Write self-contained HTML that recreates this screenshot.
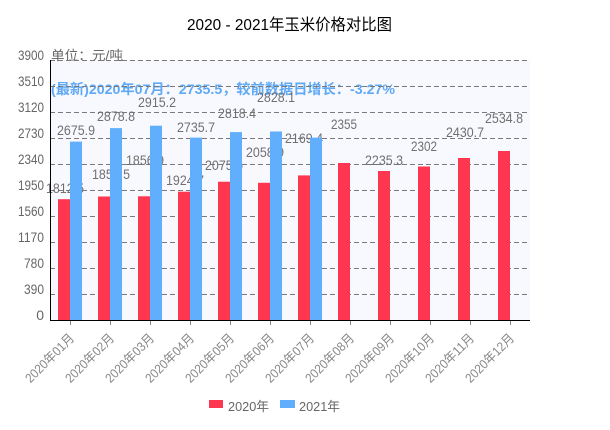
<!DOCTYPE html>
<html><head><meta charset="utf-8"><style>
html,body{margin:0;padding:0;background:#fff;}
svg{display:block;}
text{font-family:"Liberation Sans","Noto Sans CJK SC",sans-serif;}
</style></head><body>
<svg width="610" height="430" viewBox="0 0 610 430" xmlns="http://www.w3.org/2000/svg">
<rect x="0" y="0" width="610" height="430" fill="#fff"/>
<text x="187" y="30" font-size="16" fill="#000" textLength="205" lengthAdjust="spacingAndGlyphs">2020 - 2021年玉米价格对比图</text>
<rect x="50" y="60" width="480" height="260" fill="#f8f9ff"/>
<text x="51" y="60" font-size="13" fill="#666" textLength="72" lengthAdjust="spacingAndGlyphs">单位：元/吨</text>
<text x="51" y="94" font-size="14" font-weight="bold" fill="#5fa9f5" textLength="344" lengthAdjust="spacingAndGlyphs">(最新)2020年07月：2735.5，较前数据日增长：-3.27%</text>
<g stroke="#7a7a7a" stroke-width="1" stroke-dasharray="5,3">
<line x1="50" y1="60.5" x2="530" y2="60.5"/>
<line x1="50" y1="86.5" x2="530" y2="86.5"/>
<line x1="50" y1="112.5" x2="530" y2="112.5"/>
<line x1="50" y1="138.5" x2="530" y2="138.5"/>
<line x1="50" y1="164.5" x2="530" y2="164.5"/>
<line x1="50" y1="190.5" x2="530" y2="190.5"/>
<line x1="50" y1="216.5" x2="530" y2="216.5"/>
<line x1="50" y1="242.5" x2="530" y2="242.5"/>
<line x1="50" y1="268.5" x2="530" y2="268.5"/>
<line x1="50" y1="294.5" x2="530" y2="294.5"/>
</g>
<g font-size="14" fill="#666" text-anchor="end">
<text x="44" y="60" textLength="26" lengthAdjust="spacingAndGlyphs">3900</text>
<text x="44" y="86" textLength="26" lengthAdjust="spacingAndGlyphs">3510</text>
<text x="44" y="112" textLength="26" lengthAdjust="spacingAndGlyphs">3120</text>
<text x="44" y="138" textLength="26" lengthAdjust="spacingAndGlyphs">2730</text>
<text x="44" y="164" textLength="26" lengthAdjust="spacingAndGlyphs">2340</text>
<text x="44" y="190" textLength="26" lengthAdjust="spacingAndGlyphs">1950</text>
<text x="44" y="216" textLength="26" lengthAdjust="spacingAndGlyphs">1560</text>
<text x="44" y="242" textLength="26" lengthAdjust="spacingAndGlyphs">1170</text>
<text x="44" y="268" textLength="20" lengthAdjust="spacingAndGlyphs">780</text>
<text x="44" y="294" textLength="20" lengthAdjust="spacingAndGlyphs">390</text>
<text x="44" y="320">0</text>
</g>
<!-- red bars -->
<g fill="#fe3650">
<rect x="58" y="199.2" width="12" height="120.8"/>
<rect x="98" y="196.5" width="12" height="123.5"/>
<rect x="138" y="196.3" width="12" height="123.7"/>
<rect x="178" y="191.7" width="12" height="128.3"/>
<rect x="218" y="181.7" width="12" height="138.3"/>
<rect x="258" y="182.8" width="12" height="137.2"/>
<rect x="298" y="175.4" width="12" height="144.6"/>
<rect x="338" y="163" width="12" height="157"/>
<rect x="378" y="171" width="12" height="149"/>
<rect x="418" y="166.5" width="12" height="153.5"/>
<rect x="458" y="158" width="12" height="162"/>
<rect x="498" y="151" width="12" height="169"/>
</g>
<g font-size="14" fill="#707070">
<text x="46" y="193" textLength="38" lengthAdjust="spacingAndGlyphs">1812.5</text>
<text x="92" y="179" textLength="38" lengthAdjust="spacingAndGlyphs">1852.5</text>
<text x="126" y="165" textLength="38" lengthAdjust="spacingAndGlyphs">1856.9</text>
<text x="166" y="185" textLength="38" lengthAdjust="spacingAndGlyphs">1924.7</text>
<text x="205" y="170" textLength="38" lengthAdjust="spacingAndGlyphs">2075.6</text>
<text x="246" y="157" textLength="38" lengthAdjust="spacingAndGlyphs">2058.9</text>
<text x="285" y="143" textLength="38" lengthAdjust="spacingAndGlyphs">2169.4</text>
<text x="331" y="129" textLength="26" lengthAdjust="spacingAndGlyphs">2355</text>
<text x="365" y="165" textLength="38" lengthAdjust="spacingAndGlyphs">2235.3</text>
<text x="411" y="151" textLength="26" lengthAdjust="spacingAndGlyphs">2302</text>
<text x="446" y="137" textLength="38" lengthAdjust="spacingAndGlyphs">2430.7</text>
<text x="485" y="123" textLength="38" lengthAdjust="spacingAndGlyphs">2534.8</text>
</g>
<!-- blue bars -->
<g fill="#61aefc">
<rect x="70" y="141.6" width="12" height="178.4"/>
<rect x="110" y="128.1" width="12" height="191.9"/>
<rect x="150" y="125.7" width="12" height="194.3"/>
<rect x="190" y="137.6" width="12" height="182.4"/>
<rect x="230" y="132.1" width="12" height="187.9"/>
<rect x="270" y="131.5" width="12" height="188.5"/>
<rect x="310" y="137.6" width="12" height="182.4"/>
</g>
<g font-size="14" fill="#707070">
<text x="57" y="135" textLength="38" lengthAdjust="spacingAndGlyphs">2675.9</text>
<text x="97" y="121" textLength="38" lengthAdjust="spacingAndGlyphs">2878.8</text>
<text x="138" y="107" textLength="38" lengthAdjust="spacingAndGlyphs">2915.2</text>
<text x="177" y="132" textLength="38" lengthAdjust="spacingAndGlyphs">2735.7</text>
<text x="218" y="118" textLength="38" lengthAdjust="spacingAndGlyphs">2818.4</text>
<text x="257" y="102" textLength="38" lengthAdjust="spacingAndGlyphs">2828.1</text>
</g>
<!-- axes -->
<line x1="50.5" y1="60" x2="50.5" y2="320" stroke="#000" stroke-width="1"/>
<line x1="50" y1="320.5" x2="530" y2="320.5" stroke="#000" stroke-width="1"/>
<g stroke="#888" stroke-width="1">
<line x1="70.5" y1="321" x2="70.5" y2="325"/>
<line x1="110.5" y1="321" x2="110.5" y2="325"/>
<line x1="150.5" y1="321" x2="150.5" y2="325"/>
<line x1="190.5" y1="321" x2="190.5" y2="325"/>
<line x1="230.5" y1="321" x2="230.5" y2="325"/>
<line x1="270.5" y1="321" x2="270.5" y2="325"/>
<line x1="310.5" y1="321" x2="310.5" y2="325"/>
<line x1="350.5" y1="321" x2="350.5" y2="325"/>
<line x1="390.5" y1="321" x2="390.5" y2="325"/>
<line x1="430.5" y1="321" x2="430.5" y2="325"/>
<line x1="470.5" y1="321" x2="470.5" y2="325"/>
<line x1="510.5" y1="321" x2="510.5" y2="325"/>
</g>
<g font-size="13" fill="#888" text-anchor="end">
<text transform="translate(75,339) rotate(-45)" textLength="63" lengthAdjust="spacingAndGlyphs">2020年01月</text>
<text transform="translate(115,339) rotate(-45)" textLength="63" lengthAdjust="spacingAndGlyphs">2020年02月</text>
<text transform="translate(155,339) rotate(-45)" textLength="63" lengthAdjust="spacingAndGlyphs">2020年03月</text>
<text transform="translate(195,339) rotate(-45)" textLength="63" lengthAdjust="spacingAndGlyphs">2020年04月</text>
<text transform="translate(235,339) rotate(-45)" textLength="63" lengthAdjust="spacingAndGlyphs">2020年05月</text>
<text transform="translate(275,339) rotate(-45)" textLength="63" lengthAdjust="spacingAndGlyphs">2020年06月</text>
<text transform="translate(315,339) rotate(-45)" textLength="63" lengthAdjust="spacingAndGlyphs">2020年07月</text>
<text transform="translate(355,339) rotate(-45)" textLength="63" lengthAdjust="spacingAndGlyphs">2020年08月</text>
<text transform="translate(395,339) rotate(-45)" textLength="63" lengthAdjust="spacingAndGlyphs">2020年09月</text>
<text transform="translate(435,339) rotate(-45)" textLength="63" lengthAdjust="spacingAndGlyphs">2020年10月</text>
<text transform="translate(475,339) rotate(-45)" textLength="63" lengthAdjust="spacingAndGlyphs">2020年11月</text>
<text transform="translate(515,339) rotate(-45)" textLength="63" lengthAdjust="spacingAndGlyphs">2020年12月</text>
</g>
<!-- legend -->
<rect x="209" y="400" width="14" height="8" fill="#fe3650"/>
<text x="228" y="411" font-size="13" fill="#666" textLength="41" lengthAdjust="spacingAndGlyphs">2020年</text>
<rect x="280" y="400" width="15" height="8" fill="#61aefc"/>
<text x="299" y="411" font-size="13" fill="#666" textLength="41" lengthAdjust="spacingAndGlyphs">2021年</text>
</svg>
</body></html>
